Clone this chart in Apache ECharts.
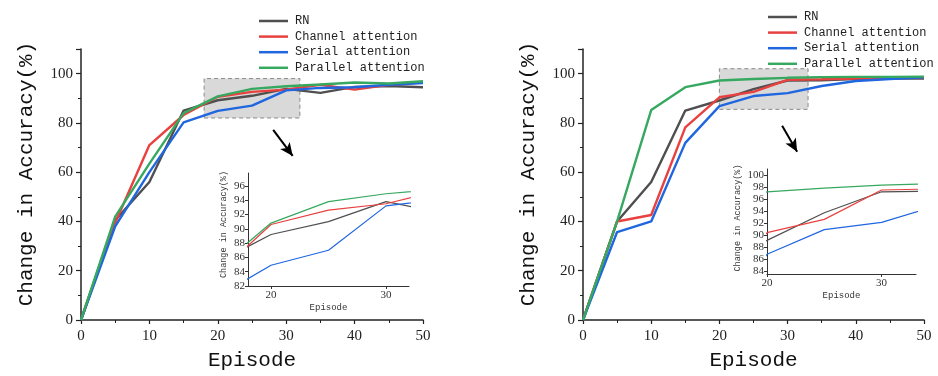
<!DOCTYPE html>
<html>
<head>
<meta charset="utf-8">
<script src="https://cdn.jsdelivr.net/npm/echarts@6/dist/echarts.min.js"></script>
<style>
  html, body { margin: 0; padding: 0; background: #fff; }
  #chart { width: 938px; height: 376px; }
</style>
</head>
<body>
<div id="chart"></div>
<script>
// episodes (x values)
var episodes = [0, 5, 10, 15, 20, 25, 30, 35, 40, 45, 50];

// left panel
var rnA = [0, 40.5, 56, 85, 89.2, 91, 93.8, 92.2, 94.6, 95, 94.5];
var chA = [0, 39.5, 71, 83.2, 90.6, 92.6, 93.5, 95.5, 93.5, 95.5, 96.5];
var seA = [0, 38, 60, 80.2, 84.9, 87, 93.2, 94.2, 94.5, 95.5, 96.2];
var paA = [0, 42, 63.5, 84, 90.8, 93.8, 94.9, 95.6, 96.4, 96, 96.9];

// right panel
var rnB = [0, 40, 56, 85, 89.1, 93.7, 97.2, 97.3, 97.8, 98, 98];
var chB = [0, 40, 42.6, 78.2, 90.4, 92.6, 97.5, 97.7, 98, 98.3, 98.4];
var seB = [0, 35.7, 40, 71.9, 86.8, 90.9, 92.1, 95, 97, 97.8, 98.5];
var paB = [0, 40, 85.2, 94.5, 97.2, 97.8, 98.3, 98.6, 98.7, 98.7, 98.8];

var names = ['RN', 'Channel attention', 'Serial attention', 'Parallel attention'];
var colors = ['#4f4f4f', '#e8413f', '#1f66df', '#37a85f'];

// tick labels
var insetAYTicks = [82, 84, 86, 88, 90, 92, 94, 96];
var insetBYTicks = [84, 86, 88, 90, 92, 94, 96, 98, 100];
var insetXTicks = [20, 30];

// zoom box and arrow (data coords)
var boxA = [[18, 82], [32, 98]];
var boxB = [[20, 85.5], [33, 102]];
var arrowA = [[28.1, 77.2], [30.95, 66.6]];
var arrowB = [[29.2, 78.8], [31.4, 68.3]];

var serif = 'Liberation Serif';
var mono = 'Liberation Mono';

function pairs(arr) {
	return episodes.map(function (e, i) { return [e, arr[i]]; });
}

function lineSeries(idx, data, axis, width) {
	return {
		name: names[idx],
		type: 'line',
		xAxisIndex: axis,
		yAxisIndex: axis,
		data: pairs(data),
		symbol: 'none',
		silent: true,
		clip: true,
		lineStyle: { color: colors[idx], width: width },
		itemStyle: { color: colors[idx] },
		z: 2 + idx * 0.01
	};
}

// empty series holding the shaded box and arrow
function markSeries(axis, box, arrow) {
	return {
		type: 'line',
		xAxisIndex: axis,
		yAxisIndex: axis,
		data: [],
		silent: true,
		z: 5,
		markArea: {
			silent: true,
			itemStyle: {
				color: 'rgba(185,185,185,0.55)',
				borderColor: '#8a8a8a',
				borderWidth: 1,
				borderType: [4, 3]
			},
			label: { show: false },
			data: [[{ coord: box[0] }, { coord: box[1] }]]
		},
		markLine: {
			silent: true,
			symbol: ['none', 'arrow'],
			symbolSize: [9, 13],
			label: { show: false },
			lineStyle: { color: '#000', width: 2, type: 'solid' },
			data: [[{ coord: arrow[0] }, { coord: arrow[1] }]]
		}
	};
}

function mainX(grid) {
	return {
		type: 'value', gridIndex: grid, min: 0, max: 50, interval: 10,
		name: 'Episode', nameLocation: 'middle', nameGap: 30,
		nameTextStyle: { fontFamily: mono, fontSize: 21, color: '#111' },
		axisLine: { onZero: false, lineStyle: { color: '#222', width: 1.5 } },
		axisTick: { length: 4, lineStyle: { color: '#222', width: 1.2 } },
		minorTick: { show: true, splitNumber: 2, length: 3, lineStyle: { color: '#222' } },
		axisLabel: { fontFamily: serif, fontSize: 15, color: '#222', margin: 9 },
		splitLine: { show: false }
	};
}

function mainY(grid) {
	return {
		type: 'value', gridIndex: grid, min: 0, max: 110, interval: 20,
		name: 'Change in Accuracy(%)', nameLocation: 'middle', nameGap: 44,
		nameTextStyle: { fontFamily: mono, fontSize: 21, color: '#111', padding: [0, 0, 0, 21] },
		axisLine: { show: true, onZero: false, lineStyle: { color: '#222', width: 1.5 } },
		axisTick: { length: 5, lineStyle: { color: '#222', width: 1.2 } },
		minorTick: { show: true, splitNumber: 2, length: 3, lineStyle: { color: '#222' } },
		axisLabel: { fontFamily: serif, fontSize: 15, color: '#222', margin: 8, showMaxLabel: false },
		splitLine: { show: false }
	};
}

function insetX(grid, min, max, gap) {
	return {
		type: 'value', gridIndex: grid, min: min, max: max,
		name: 'Episode', nameLocation: 'middle', nameGap: gap,
		nameTextStyle: { fontFamily: mono, fontSize: 9, color: '#333' },
		axisLine: { onZero: false, lineStyle: { color: '#333', width: 1 } },
		axisTick: { length: 3, customValues: insetXTicks, lineStyle: { color: '#333' } },
		axisLabel: { fontFamily: serif, fontSize: 11, color: '#333', margin: 4, customValues: insetXTicks },
		splitLine: { show: false }
	};
}

function insetY(grid, min, max, ticks, gap, pad) {
	return {
		type: 'value', gridIndex: grid, min: min, max: max,
		name: 'Change in Accuracy(%)', nameLocation: 'middle', nameGap: gap,
		nameTextStyle: { fontFamily: mono, fontSize: 8.5, color: '#333', padding: [0, 0, 0, pad] },
		axisLine: { show: true, onZero: false, lineStyle: { color: '#333', width: 1 } },
		axisTick: { length: 3, customValues: ticks, lineStyle: { color: '#333' } },
		axisLabel: { fontFamily: serif, fontSize: 11, color: '#333', margin: 3, customValues: ticks },
		splitLine: { show: false }
	};
}

function legend(left, top) {
	return {
		orient: 'vertical', left: left, top: top,
		data: names,
		icon: 'rect', itemWidth: 29, itemHeight: 2.5, itemGap: 3.6,
		selectedMode: false,
		textStyle: { fontFamily: mono, fontSize: 12, color: '#222', padding: [0, 0, 0, 2] }
	};
}

var chart = echarts.init(document.getElementById('chart'), null, { renderer: 'canvas' });

var series = [];
[rnA, chA, seA, paA].forEach(function (d, i) { series.push(lineSeries(i, d, 0, 2.4)); });
[rnA, chA, seA, paA].forEach(function (d, i) { series.push(lineSeries(i, d, 1, 1.2)); });
[rnB, chB, seB, paB].forEach(function (d, i) { series.push(lineSeries(i, d, 2, 2.4)); });
[rnB, chB, seB, paB].forEach(function (d, i) { series.push(lineSeries(i, d, 3, 1.2)); });
series.push(markSeries(0, boxA, arrowA));
series.push(markSeries(2, boxB, arrowB));

chart.setOption({
	animation: false,
	backgroundColor: '#fff',
	legend: [legend(254, 10), legend(763, 6)],
	grid: [
		{ left: 81, top: 49, width: 342, height: 276 },
		{ left: 248, top: 173, width: 161, height: 113 },
		{ left: 583, top: 49, width: 341, height: 276 },
		{ left: 767, top: 169, width: 149, height: 105 }
	],
	xAxis: [mainX(0), insetX(1, 18, 32, 17), mainX(2), insetX(3, 20, 33, 17)],
	yAxis: [
		mainY(0),
		insetY(1, 82, 97.8, insetAYTicks, 20, 10),
		mainY(2),
		insetY(3, 83.5, 101, insetBYTicks, 25, 7)
	],
	series: series
});
</script>
</body>
</html>
